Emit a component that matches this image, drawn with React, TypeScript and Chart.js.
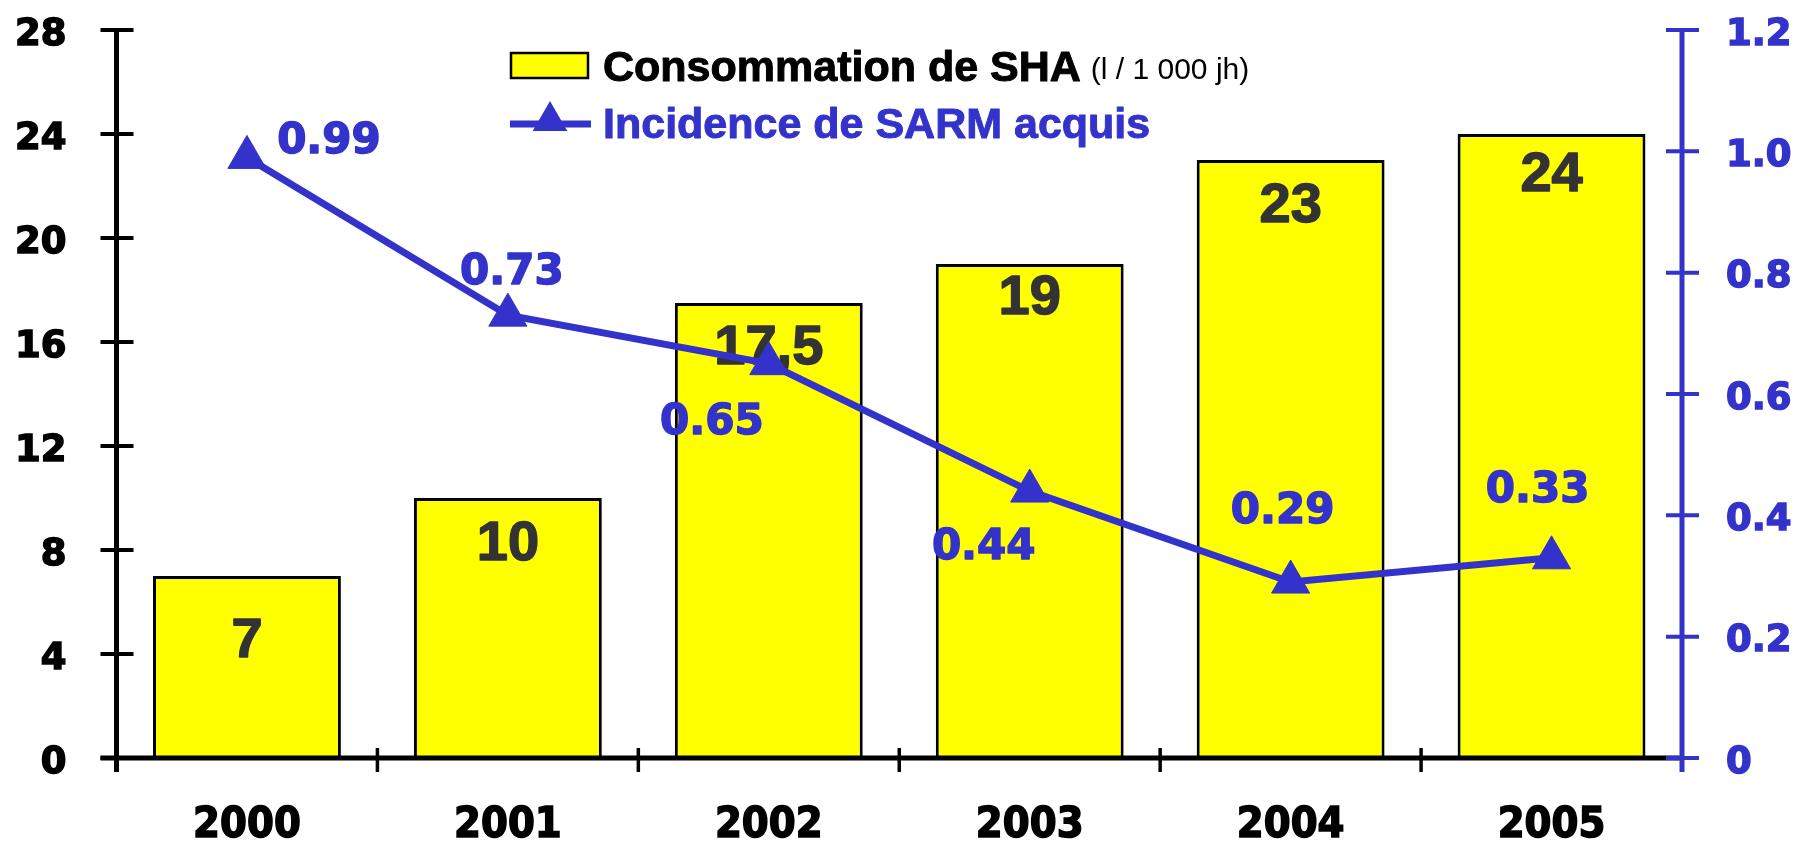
import React, { useEffect, useRef } from 'react';
import { Chart, registerables } from 'chart.js';

Chart.register(...registerables);

// ---- data ----
const YEARS = ['2000', '2001', '2002', '2003', '2004', '2005'];
const SHA_VALUES = [7, 10, 17.5, 19, 23, 24];
const SHA_LABELS = ['7', '10', '17,5', '19', '23', '24'];
const SARM_VALUES = [0.99, 0.73, 0.65, 0.44, 0.29, 0.33];
const SARM_LABELS = ['0.99', '0.73', '0.65', '0.44', '0.29', '0.33'];
const LEFT_MAX = 28;
const LEFT_STEP = 4;
const RIGHT_MAX = 1.2;
const RIGHT_STEP = 0.2;
const LEGEND_SHA = 'Consommation de SHA';
const LEGEND_SHA_UNIT = '(l / 1 000 jh)';
const LEGEND_SARM = 'Incidence de SARM acquis';

// ---- styles ----
const BLUE = '#3333CC';
const YELLOW = '#FFFF00';
const BAR_LABEL_DY = [66, 47, 46, 35, 47, 42];
const LINE_LABEL_OFFSETS: [number, number][] = [
  [82, -15],
  [4, -42],
  [-57, 59],
  [-46, 57],
  [-8, -70],
  [-14, -67],
];

function drawTriangle(ctx: CanvasRenderingContext2D, cx: number, cy: number, r: number) {
  ctx.beginPath();
  for (let k = 0; k < 3; k++) {
    const a = (k * 2 * Math.PI) / 3;
    const px = cx + Math.sin(a) * r;
    const py = cy - Math.cos(a) * r;
    if (k === 0) ctx.moveTo(px, py);
    else ctx.lineTo(px, py);
  }
  ctx.closePath();
  ctx.fill();
}

function boldText(ctx: CanvasRenderingContext2D, text: string, x: number, y: number, stroke: number) {
  if (stroke > 0) {
    ctx.lineWidth = stroke;
    ctx.lineJoin = 'round';
    ctx.strokeStyle = ctx.fillStyle as string;
    ctx.strokeText(text, x, y);
  }
  ctx.fillText(text, x, y);
}

const overlayPlugin = {
  id: 'overlay',
  afterDatasetDraw(chart: any, args: any) {
    if (args.index !== 0) return;
    const ctx: CanvasRenderingContext2D = chart.ctx;
    const meta = chart.getDatasetMeta(0);
    ctx.save();
    ctx.font = 'bold 56px "Liberation Sans", Arial, sans-serif';
    ctx.fillStyle = '#333333';
    ctx.textAlign = 'center';
    ctx.textBaseline = 'middle';
    meta.data.forEach((bar: any, i: number) => {
      boldText(ctx, SHA_LABELS[i], bar.x, bar.y + BAR_LABEL_DY[i], 1.5);
    });
    ctx.restore();
  },
  afterDatasetsDraw(chart: any) {
    const ctx: CanvasRenderingContext2D = chart.ctx;
    const { chartArea, scales } = chart;
    const xs = scales.x;
    const ys = scales.y;
    const y1 = scales.y1;
    const base = ys.getPixelForValue(0);
    const top = ys.getPixelForValue(LEFT_MAX);
    const half = (xs.getPixelForValue(1) - xs.getPixelForValue(0)) / 2;

    ctx.save();
    ctx.lineCap = 'butt';
    // x axis
    ctx.strokeStyle = '#000';
    ctx.lineWidth = 5;
    ctx.beginPath();
    ctx.moveTo(chartArea.left - 16, base);
    ctx.lineTo(chartArea.right, base);
    ctx.stroke();
    ctx.lineWidth = 3.5;
    for (let i = 0; i < YEARS.length; i++) {
      const px = xs.getPixelForValue(i) - half;
      ctx.beginPath();
      ctx.moveTo(px, base - 10);
      ctx.lineTo(px, base + 14);
      ctx.stroke();
    }
    // left axis
    ctx.lineWidth = 5;
    ctx.beginPath();
    ctx.moveTo(chartArea.left, top - 2);
    ctx.lineTo(chartArea.left, base + 14);
    ctx.stroke();
    ctx.lineWidth = 4;
    ys.ticks.forEach((t: any) => {
      const py = ys.getPixelForValue(t.value);
      ctx.beginPath();
      ctx.moveTo(chartArea.left - 16, py);
      ctx.lineTo(chartArea.left + 17, py);
      ctx.stroke();
    });
    // right axis
    ctx.strokeStyle = BLUE;
    ctx.lineWidth = 5;
    ctx.beginPath();
    ctx.moveTo(chartArea.right, y1.getPixelForValue(RIGHT_MAX) - 2);
    ctx.lineTo(chartArea.right, base + 14);
    ctx.stroke();
    ctx.lineWidth = 4;
    y1.ticks.forEach((t: any) => {
      const py = y1.getPixelForValue(t.value);
      ctx.beginPath();
      ctx.moveTo(chartArea.right - 16, py);
      ctx.lineTo(chartArea.right + 17, py);
      ctx.stroke();
    });
    ctx.restore();

    // line labels
    const meta = chart.getDatasetMeta(1);
    ctx.save();
    ctx.font = 'bold 42px "DejaVu Sans", Verdana, sans-serif';
    ctx.fillStyle = BLUE;
    ctx.textAlign = 'center';
    ctx.textBaseline = 'middle';
    meta.data.forEach((pt: any, i: number) => {
      const [dx, dy] = LINE_LABEL_OFFSETS[i];
      boldText(ctx, SARM_LABELS[i], pt.x + dx, pt.y + dy, 1.5);
    });
    ctx.restore();
  },
  afterDraw(chart: any) {
    const ctx: CanvasRenderingContext2D = chart.ctx;
    ctx.save();
    // row 1
    ctx.fillStyle = YELLOW;
    ctx.fillRect(511, 53, 77, 25);
    ctx.strokeStyle = '#000';
    ctx.lineWidth = 2.5;
    ctx.strokeRect(511, 53, 77, 25);
    ctx.fillStyle = '#000';
    ctx.textAlign = 'left';
    ctx.textBaseline = 'middle';
    ctx.font = 'bold 43px "Liberation Sans", Arial, sans-serif';
    boldText(ctx, LEGEND_SHA, 603, 69, 1);
    const w = ctx.measureText(LEGEND_SHA).width;
    ctx.font = '30px "Liberation Sans", Arial, sans-serif';
    ctx.fillText(LEGEND_SHA_UNIT, 603 + w + 10, 71);
    // row 2
    ctx.strokeStyle = BLUE;
    ctx.lineWidth = 7;
    ctx.beginPath();
    ctx.moveTo(510, 124);
    ctx.lineTo(591, 124);
    ctx.stroke();
    ctx.fillStyle = BLUE;
    drawTriangle(ctx, 550, 121, 20);
    ctx.font = 'bold 43px "Liberation Sans", Arial, sans-serif';
    boldText(ctx, LEGEND_SARM, 603, 126, 1);
    ctx.restore();
  },
};

const noPad = (s: any) => {
  s.paddingTop = 0;
  s.paddingBottom = 0;
  s.paddingLeft = 0;
  s.paddingRight = 0;
};

export default function App() {
  const canvasRef = useRef<HTMLCanvasElement | null>(null);

  useEffect(() => {
    if (!canvasRef.current) return;
    const chart = new Chart(canvasRef.current, {
      data: {
        labels: YEARS,
        datasets: [
          {
            type: 'bar',
            label: LEGEND_SHA,
            data: SHA_VALUES,
            backgroundColor: YELLOW,
            borderColor: '#000',
            borderWidth: 3,
            barPercentage: 0.72,
            categoryPercentage: 1,
            yAxisID: 'y',
            order: 2,
          } as any,
          {
            type: 'line',
            label: LEGEND_SARM,
            data: SARM_VALUES,
            borderColor: BLUE,
            borderWidth: 7,
            backgroundColor: BLUE,
            pointStyle: 'triangle',
            pointRadius: 22,
            pointBackgroundColor: BLUE,
            pointBorderColor: BLUE,
            pointBorderWidth: 1,
            tension: 0,
            fill: false,
            yAxisID: 'y1',
            order: 1,
          } as any,
        ],
      },
      options: {
        responsive: false,
        animation: false,
        devicePixelRatio: 1,
        events: [],
        layout: { padding: { top: 30, left: 0, right: 0, bottom: 0 } },
        plugins: {
          legend: { display: false },
          tooltip: { enabled: false },
        },
        scales: {
          x: {
            type: 'category',
            position: 'bottom',
            grid: { display: false, drawTicks: false },
            border: { display: false },
            ticks: {
              color: '#000',
              padding: 42,
              maxRotation: 0,
              textStrokeColor: '#000',
              textStrokeWidth: 1.5,
              font: { family: '"DejaVu Sans Condensed", "DejaVu Sans", sans-serif', size: 43, weight: 'bold' },
            },
            afterFit: (s: any) => {
              s.height = 83;
              noPad(s);
            },
          },
          y: {
            type: 'linear',
            position: 'left',
            min: 0,
            max: LEFT_MAX,
            grid: { display: false, drawTicks: false },
            border: { display: false },
            ticks: {
              stepSize: LEFT_STEP,
              color: '#000',
              padding: 50,
              labelOffset: 5,
              textStrokeColor: '#000',
              textStrokeWidth: 1.5,
              font: { family: '"DejaVu Sans", Verdana, sans-serif', size: 37, weight: 'bold' },
            },
            afterFit: (s: any) => {
              s.width = 116.5;
              noPad(s);
            },
          },
          y1: {
            type: 'linear',
            position: 'right',
            min: 0,
            max: RIGHT_MAX,
            grid: { display: false, drawTicks: false },
            border: { display: false },
            ticks: {
              stepSize: RIGHT_STEP,
              color: BLUE,
              padding: 44,
              labelOffset: 5,
              textStrokeColor: BLUE,
              textStrokeWidth: 1.5,
              font: { family: '"DejaVu Sans", Verdana, sans-serif', size: 37, weight: 'bold' },
              callback: (v: any) => (Math.abs(Number(v)) < 1e-9 ? '0' : Number(v).toFixed(1)),
            },
            afterFit: (s: any) => {
              s.width = 127;
              noPad(s);
            },
          },
        },
      } as any,
      plugins: [overlayPlugin],
    });
    return () => chart.destroy();
  }, []);

  return (
    <div style={{ position: 'absolute', left: 0, top: 0, width: 1809, height: 841, background: '#fff' }}>
      <canvas ref={canvasRef} width={1809} height={841} style={{ display: 'block' }} />
    </div>
  );
}
